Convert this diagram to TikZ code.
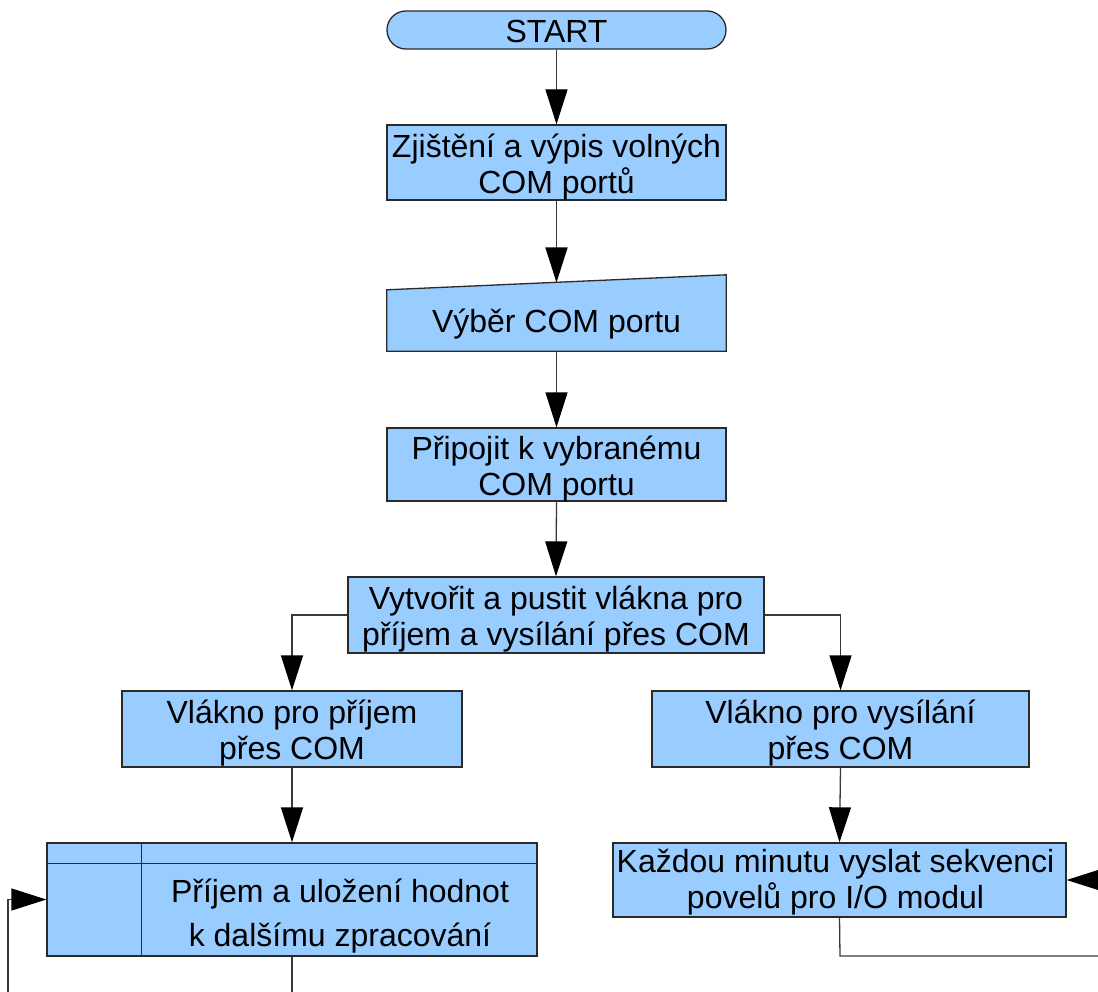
\documentclass[tikz,border=0pt]{standalone}
\usepackage{fontspec}
\setmainfont{Liberation Sans}
\usetikzlibrary{arrows.meta,calc}
\definecolor{boxfill}{HTML}{99CCFF}
\definecolor{edge}{HTML}{2A2A2A}
\definecolor{wire}{HTML}{3A3A3A}
\begin{document}
\begin{tikzpicture}[x=1pt,y=-1pt,
  every node/.style={text=black, align=center, inner sep=0pt},
  label/.style={font=\fontsize{32}{36}\selectfont},
  procbox/.style={draw=edge, fill=boxfill, line width=1.3pt, rectangle},
  termbox/.style={draw=edge, fill=boxfill, line width=1.3pt, rectangle, rounded corners=18.9pt},
  flow/.style={draw=wire, line width=1.3pt, -{Triangle[length=35pt,width=22pt,color=black,fill=black]}},
  plainflow/.style={draw=wire, line width=1.3pt}
]
\useasboundingbox (0,0) rectangle (1098,992);

% start terminator
\node[termbox, minimum width=339pt, minimum height=38pt] (start) at (556.5,30) {};
\node[label] (startT) at ($(start)+(0,1)$) {START};

% list free ports
\node[procbox, minimum width=339pt, minimum height=75pt] (list) at (556.5,162.5) {};
\node[label] (listT) at ($(list)+(0,5)$) {Zjištění a výpis volných\\COM portů};

% manual input: port selection (slanted top edge)
\node[minimum width=339pt, minimum height=61pt] (sel) at (556.5,320.5) {};
\filldraw[draw=edge, fill=boxfill, line width=1.3pt]
  (sel.south west) -- (sel.north west) -- ($(sel.north east)+(0,-15)$) -- (sel.south east) -- cycle;
\node[label] (selT) at (556.5,324) {Výběr COM portu};
\coordinate (selin) at (556.5,282.5);

% connect
\node[procbox, minimum width=339pt, minimum height=73pt] (conn) at (556.5,464.5) {};
\node[label] (connT) at ($(conn)+(0,5)$) {Připojit k vybranému\\COM portu};

% spawn threads
\node[procbox, minimum width=416pt, minimum height=76pt] (spawn) at (556,615) {};
\node[label] (spawnT) at ($(spawn)+(0,4)$) {Vytvořit a pustit vlákna pro\\příjem a vysílání přes COM};

% receiving thread
\node[procbox, minimum width=340pt, minimum height=76pt] (rxthr) at (292,729) {};
\node[label] (rxthrT) at ($(rxthr)+(0,4)$) {Vlákno pro příjem\\přes COM};

% sending thread
\node[procbox, minimum width=377pt, minimum height=76pt] (txthr) at (840.5,729) {};
\node[label] (txthrT) at ($(txthr)+(0,4)$) {Vlákno pro vysílání\\přes COM};

% internal storage
\node[procbox, minimum width=490pt, minimum height=113pt] (store) at (292,899.5) {};
\draw[edge, line width=1.3pt] ($(store.north west)+(0,21)$) -- ($(store.north east)+(0,21)$);
\draw[edge, line width=1.3pt] ($(store.north west)+(95,0)$) -- ($(store.south west)+(95,0)$);
\node[font=\fontsize{32}{44}\selectfont] (storeT) at (340,916) {Příjem a uložení hodnot\\ k dalšímu zpracování};

% periodic sending
\node[procbox, minimum width=453pt, minimum height=74pt] (send) at (839.5,880) {};
\node[label] (sendT) at ($(send)+(-4,2)$) {Každou minutu vyslat sekvenci\\povelů pro I/O modul};

% loose ends of the loops
\coordinate (rxout) at (292,1000);
\coordinate (loopin) at (8,1000);
\coordinate (txturn) at (840,956);
\coordinate (txout) at (1110,956);
\coordinate (txin) at (1140,880);

% connectors
\draw[flow] (start.south) -- (list.north);
\draw[flow] (list.south) -- (selin);
\draw[flow] (sel.south) -- (conn.north);
\draw[flow] (conn.south) -- (spawn.north);
\draw[flow] (spawn.west) -| (rxthr.north);
\draw[flow] (spawn.east) -| (txthr.north);
\draw[flow] (rxthr.south) -- (store.north);
\draw[flow] (txthr.south) -- (send.north);
\draw[plainflow] (store.south) -- (rxout);
\draw[flow] (loopin) |- (store.west);
\draw[plainflow] (send.south) -- (txturn) -- (txout);
\draw[flow] (txin) -- (send.east);
\end{tikzpicture}
\end{document}
